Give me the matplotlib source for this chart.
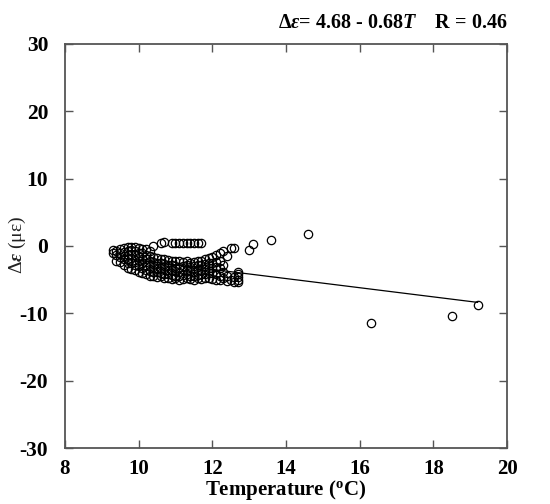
import matplotlib
matplotlib.use("Agg")
import matplotlib.pyplot as plt
import numpy as np

plt.rcParams['font.family'] = ['Liberation Serif', 'DejaVu Serif']
plt.rcParams['mathtext.fontset'] = 'custom'
plt.rcParams['mathtext.rm'] = 'Liberation Serif:bold'
plt.rcParams['mathtext.bf'] = 'Liberation Serif:bold'
plt.rcParams['mathtext.it'] = 'Liberation Serif:italic:bold'

# ---- data ----
temperature = [
    9.3, 9.3,
    9.4, 9.4, 9.4,
    9.5, 9.5, 9.5, 9.5,
    9.6, 9.6, 9.6, 9.6, 9.6,
    9.7, 9.7, 9.7, 9.7, 9.7, 9.7,
    9.8, 9.8, 9.8, 9.8, 9.8, 9.8,
    9.9, 9.9, 9.9, 9.9, 9.9, 9.9,
    10.0, 10.0, 10.0, 10.0, 10.0, 10.0,
    10.1, 10.1, 10.1, 10.1, 10.1, 10.1,
    10.2, 10.2, 10.2, 10.2, 10.2, 10.2,
    10.3, 10.3, 10.3, 10.3, 10.3, 10.3,
    10.4, 10.4, 10.4, 10.4, 10.4, 10.4,
    10.5, 10.5, 10.5, 10.5, 10.5,
    10.6, 10.6, 10.6, 10.6, 10.6, 10.6,
    10.7, 10.7, 10.7, 10.7, 10.7, 10.7,
    10.8, 10.8, 10.8, 10.8, 10.8,
    10.9, 10.9, 10.9, 10.9, 10.9, 10.9,
    11.0, 11.0, 11.0, 11.0, 11.0, 11.0,
    11.1, 11.1, 11.1, 11.1, 11.1, 11.1,
    11.2, 11.2, 11.2, 11.2, 11.2, 11.2,
    11.3, 11.3, 11.3, 11.3, 11.3, 11.3,
    11.4, 11.4, 11.4, 11.4, 11.4, 11.4,
    11.5, 11.5, 11.5, 11.5, 11.5, 11.5,
    11.6, 11.6, 11.6, 11.6, 11.6, 11.6,
    11.7, 11.7, 11.7, 11.7, 11.7, 11.7,
    11.8, 11.8, 11.8, 11.8, 11.8,
    11.9, 11.9, 11.9, 11.9, 11.9,
    12.0, 12.0, 12.0, 12.0, 12.0,
    12.1, 12.1, 12.1, 12.1, 12.1,
    12.2, 12.2, 12.2, 12.2, 12.2,
    12.3, 12.3, 12.3, 12.3,
    12.4, 12.4, 12.4,
    12.5, 12.5,
    12.6, 12.6, 12.6,
    12.7, 12.7, 12.7, 12.7, 12.7,
    13.0, 13.1, 13.6, 14.6, 16.3, 18.5, 19.2,
]
strain = [
    -0.6, -1.0,
    -0.8, -1.4, -2.2,
    -0.5, -1.0, -1.6, -2.4,
    -0.3, -0.9, -1.5, -2.0, -2.8,
    -0.2, -0.7, -1.3, -1.9, -2.6, -3.2,
    -0.1, -0.6, -1.2, -1.8, -2.5, -3.4,
    -0.2, -0.8, -1.4, -2.1, -2.9, -3.6,
    -0.3, -1.0, -1.6, -2.3, -3.0, -3.8,
    -0.4, -1.1, -1.9, -2.6, -3.3, -4.0,
    -0.5, -1.3, -2.0, -2.8, -3.5, -4.2,
    -0.7, -1.5, -2.2, -3.0, -3.7, -4.4,
    0.0, -1.6, -2.4, -3.1, -3.8, -4.5,
    -1.8, -2.5, -3.2, -3.9, -4.6,
    0.5, -1.9, -2.6, -3.3, -4.0, -4.4,
    0.6, -2.0, -2.7, -3.4, -4.1, -4.8,
    -2.1, -2.8, -3.5, -4.2, -4.7,
    0.4, -2.2, -2.9, -3.6, -4.3, -4.9,
    0.4, -2.3, -3.0, -3.7, -4.4, -4.8,
    0.4, -2.2, -3.1, -3.8, -4.5, -5.0,
    0.5, -2.4, -3.0, -3.6, -4.3, -4.9,
    0.4, -2.3, -2.9, -3.5, -4.2, -4.7,
    0.5, -2.5, -3.1, -3.7, -4.4, -4.9,
    0.4, -2.4, -3.0, -3.8, -4.5, -5.0,
    0.5, -2.3, -2.9, -3.6, -4.3, -4.8,
    0.4, -2.2, -2.8, -3.5, -4.2, -4.9,
    -2.0, -2.7, -3.4, -4.1, -4.7,
    -1.8, -2.6, -3.3, -4.0, -4.8,
    -1.6, -2.5, -3.2, -4.0, -4.9,
    -1.3, -2.4, -3.1, -4.2, -5.0,
    -1.0, -2.2, -3.3, -4.4, -5.1,
    -0.7, -2.8, -3.8, -4.8,
    -1.5, -4.5, -5.2,
    -0.3, -5.0,
    -0.3, -4.6, -5.3,
    -3.8, -4.2, -4.6, -5.0, -5.4,
    -0.6, 0.3, 0.9, 1.8, -11.5, -10.4, -8.8,
]
fit_intercept = 4.68
fit_slope = -0.68
r_value = 0.46

x_ticks = [8, 10, 12, 14, 16, 18, 20]
y_ticks = [-30, -20, -10, 0, 10, 20, 30]

# ---- figure ----
fig = plt.figure(figsize=(5.5, 5.04), dpi=100)
ax = fig.add_axes([0.118, 0.111, 0.804, 0.802])

T = np.array(temperature)
E = np.array(strain)
ax.plot(T, E, linestyle='none', marker='o', markersize=6,
        markerfacecolor='none', markeredgecolor='black', markeredgewidth=0.9)

tline = np.array([T.min(), T.max()])
ax.plot(tline, fit_intercept + fit_slope * tline, color='black', linewidth=0.9)

ax.set_xlim(8, 20)
ax.set_ylim(-30, 30)
ax.set_xticks(x_ticks)
ax.set_yticks(y_ticks)
ax.set_xticklabels([str(v) for v in x_ticks], fontweight='bold', fontsize=15)
ax.set_yticklabels([str(v) for v in y_ticks], fontweight='bold', fontsize=15.5)
ax.tick_params(axis='x', pad=8)
ax.tick_params(axis='y', pad=12)
ax.tick_params(direction='in', length=6, width=1.0, color='#555555',
               top=True, right=True)
for s in ax.spines.values():
    s.set_color('#555555')
    s.set_linewidth(1.3)

fig.text(286 / 550, 1 - 502 / 504, r'Temperature ($^{\mathbf{o}}$C)',
         ha='center', va='bottom', fontsize=15, fontweight='bold')
fig.text(17 / 550, 1 - 245 / 504, 'Δ$\\it{ε}$ (με)', rotation=90,
         ha='center', va='center', fontsize=14, color='#222222',
         family=['Liberation Serif', 'DejaVu Serif'])

fig.text(0.922, 0.955, r'$\Delta\varepsilon$= 4.68 - 0.68$T$    R = 0.46',
         ha='right', va='center', fontsize=14.5, fontweight='bold')

fig.savefig('out.png', dpi=100)
